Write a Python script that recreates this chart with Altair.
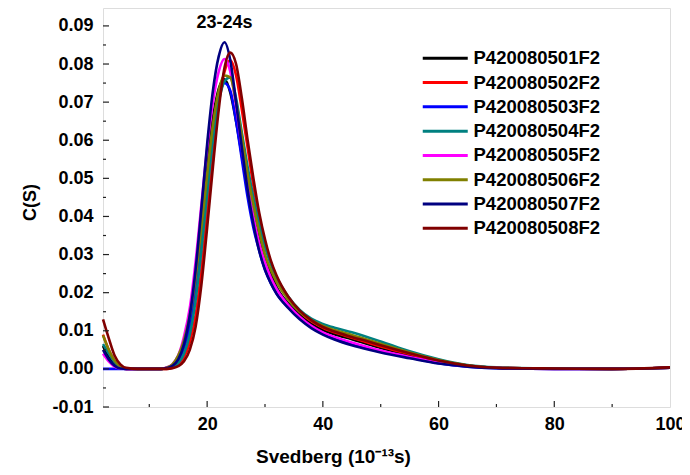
import altair as alt
import pandas as pd

svedberg = [2, 3, 4, 5, 6, 8, 10, 12, 13, 14, 15, 16, 17, 18, 19, 20, 21, 22, 23, 24, 25, 26, 27, 28, 29,
            30, 31, 32, 34, 36, 38, 40, 42, 45, 48, 50, 55, 60, 65, 70, 80, 90, 100]

s501 = [0.006, 0.003, 0.001, 0.0002, 0, 0, 0, 0, 0.0002, 0.0008, 0.0025, 0.0065, 0.013, 0.024, 0.039, 0.055,
        0.066, 0.0735, 0.076, 0.0725, 0.065, 0.056, 0.047, 0.040, 0.034, 0.029, 0.025, 0.0215, 0.0172, 0.0142,
        0.0118, 0.0102, 0.0091, 0.0078, 0.0064, 0.0055, 0.0036, 0.0019, 0.0008, 0.0003, 0.0001, 0, 0.0003]
s502 = [0.009, 0.005, 0.002, 0.0005, 0, 0, 0, 0, 0, 0.0003, 0.001, 0.003, 0.007, 0.014, 0.026, 0.041,
        0.057, 0.070, 0.078, 0.081, 0.077, 0.068, 0.058, 0.048, 0.040, 0.033, 0.028, 0.024, 0.0185, 0.015,
        0.0125, 0.0108, 0.0096, 0.0082, 0.0068, 0.0059, 0.0039, 0.0021, 0.0009, 0.0003, 0.0001, 0, 0.0003]
s503 = [0, 0, 0, 0, 0, 0, 0, 0, 0.0002, 0.0007, 0.002, 0.0055, 0.011, 0.021, 0.035, 0.050,
        0.063, 0.071, 0.075, 0.073, 0.065, 0.055, 0.045, 0.037, 0.031, 0.026, 0.0225, 0.0198, 0.0162, 0.0133,
        0.011, 0.0093, 0.0081, 0.0066, 0.0053, 0.0046, 0.003, 0.0015, 0.0006, 0.0002, 0, 0, 0.0003]
s504 = [0.0065, 0.004, 0.0018, 0.0006, 0.0001, 0, 0, 0, 0.0001, 0.0004, 0.0015, 0.004, 0.009, 0.018, 0.031, 0.046,
        0.060, 0.070, 0.0755, 0.0765, 0.071, 0.062, 0.053, 0.045, 0.038, 0.032, 0.0275, 0.024, 0.019, 0.0155,
        0.0132, 0.0118, 0.0108, 0.0096, 0.0082, 0.0072, 0.0046, 0.0025, 0.001, 0.0004, 0.0001, 0, 0.0003]
s505 = [0.004, 0.002, 0.0006, 0.0001, 0, 0, 0, 0, 0.0004, 0.0012, 0.0035, 0.0085, 0.016, 0.028, 0.043, 0.058,
        0.070, 0.078, 0.0813, 0.078, 0.069, 0.058, 0.048, 0.040, 0.033, 0.028, 0.024, 0.021, 0.0168, 0.0137,
        0.0113, 0.0096, 0.0084, 0.0069, 0.0056, 0.0048, 0.0031, 0.0016, 0.0007, 0.0003, 0, 0, 0.0003]
s506 = [0.0088, 0.005, 0.0022, 0.0007, 0.0001, 0, 0, 0, 0.0003, 0.0012, 0.0035, 0.0075, 0.014, 0.024, 0.037, 0.051,
        0.064, 0.073, 0.077, 0.0765, 0.070, 0.061, 0.051, 0.043, 0.036, 0.030, 0.026, 0.0228, 0.0182, 0.015,
        0.0128, 0.0113, 0.0102, 0.0089, 0.0075, 0.0066, 0.0043, 0.0023, 0.0009, 0.0003, 0.0001, 0, 0.0003]
s507 = [0.005, 0.0025, 0.0008, 0.0001, 0, 0, 0, 0, 0.0002, 0.0008, 0.0025, 0.0065, 0.014, 0.026, 0.042, 0.059,
        0.073, 0.082, 0.0857, 0.081, 0.070, 0.058, 0.047, 0.038, 0.031, 0.026, 0.0225, 0.0197, 0.016, 0.013,
        0.0107, 0.009, 0.0077, 0.0062, 0.005, 0.0043, 0.0028, 0.0014, 0.0006, 0.0002, 0, 0, 0.0003]
s508 = [0.013, 0.008, 0.0035, 0.0012, 0.0003, 0, 0, 0, 0, 0.0002, 0.0007, 0.002, 0.005, 0.011, 0.022, 0.037,
        0.053, 0.068, 0.079, 0.083, 0.080, 0.071, 0.060, 0.050, 0.041, 0.034, 0.0285, 0.0245, 0.019, 0.0153,
        0.0128, 0.011, 0.0098, 0.0084, 0.0071, 0.0062, 0.0041, 0.0022, 0.0009, 0.0003, 0.0001, 0, 0.0004]

series_names = ["P420080501F2", "P420080502F2", "P420080503F2", "P420080504F2",
                "P420080505F2", "P420080506F2", "P420080507F2", "P420080508F2"]
series_colors = ["#000000", "#FF0000", "#0000FF", "#008080",
                 "#FF00FF", "#808000", "#000080", "#800000"]
series_values = [s501, s502, s503, s504, s505, s506, s507, s508]

x_major = [20, 40, 60, 80]
x_minor = [10, 30, 50, 70, 90]
x_labels = [20, 40, 60, 80, 100]
y_major = [-0.01, 0.0, 0.01, 0.02, 0.03, 0.04, 0.05, 0.06, 0.07, 0.08, 0.09]
y_minor = [-0.005, 0.005, 0.015, 0.025, 0.035, 0.045, 0.055, 0.065, 0.075, 0.085]

peak_label = "23-24s"
peak_x = 23.0
peak_y = 0.0908

rows = []
for name, vals in zip(series_names, series_values):
    for s, c in zip(svedberg, vals):
        rows.append({"S": s, "C": c, "sample": name})
df = pd.DataFrame(rows)

W, H = 567, 399
FONT = "Liberation Sans"

xscale = alt.Scale(domain=[2, 100], nice=False, zero=False)
yscale = alt.Scale(domain=[-0.01, 0.0947], nice=False, zero=False)

xaxis = alt.Axis(values=x_labels, format="d", tickSize=0, domain=False, grid=False,
                 labelFont=FONT, labelFontSize=18, labelFontWeight="bold", labelColor="black",
                 labelPadding=8, labelFlush=False, labelOverlap=False,
                 title="Svedberg (10⁻¹³s)", titleFont=FONT, titleFontSize=19,
                 titleFontWeight="bold", titleColor="black",
                 titleX=230, titleY=49, titleAlign="center", titleBaseline="middle")
yaxis = alt.Axis(values=y_major, tickSize=0, domain=False, grid=False, labelOverlap=False,
                 labelExpr="replace(format(datum.value, '.2f'), '\u2212', '-')",
                 labelFont=FONT, labelFontSize=18, labelFontWeight="bold", labelColor="black",
                 labelPadding=10,
                 title="C(S)", titleFont=FONT, titleFontSize=18, titleFontWeight="bold",
                 titleColor="black", titleX=-73, titleY=194, titleAngle=270,
                 titleAlign="center", titleBaseline="middle")

X = lambda: alt.X("S:Q", scale=xscale, axis=xaxis)
Y = lambda: alt.Y("C:Q", scale=yscale, axis=yaxis)

lines = alt.Chart(df).mark_line(strokeWidth=2.6, interpolate="monotone").encode(
    x=X(), y=Y(),
    color=alt.Color("sample:N",
                    scale=alt.Scale(domain=series_names, range=series_colors),
                    legend=alt.Legend(orient="none", legendX=333, legendY=41, title=None,
                                      symbolType="M-3,0H3", symbolSize=225, symbolStrokeWidth=3,
                                      labelFont=FONT, labelFontSize=18.5, labelFontWeight="bold",
                                      labelColor="black", labelOffset=19, rowPadding=5.3, padding=0,
                                      symbolOffset=0)),
)

xmaj = alt.Chart(pd.DataFrame({"S": x_major})).mark_rule(color="#222", strokeWidth=1.2).encode(
    x=X(), y=alt.value(H), y2=alt.value(H - 6))
xmin = alt.Chart(pd.DataFrame({"S": x_minor})).mark_rule(color="#222", strokeWidth=1.2).encode(
    x=X(), y=alt.value(H), y2=alt.value(H - 3))
ymaj = alt.Chart(pd.DataFrame({"C": y_major})).mark_rule(color="#222", strokeWidth=1.2).encode(
    y=Y(), x=alt.value(0), x2=alt.value(6))
ymin = alt.Chart(pd.DataFrame({"C": y_minor})).mark_rule(color="#222", strokeWidth=1.2).encode(
    y=Y(), x=alt.value(0), x2=alt.value(3))

label = alt.Chart(pd.DataFrame({"S": [peak_x], "C": [peak_y], "t": [peak_label]})).mark_text(
    font=FONT, fontSize=18, fontWeight="bold", color="black", align="center", baseline="middle"
).encode(x=X(), y=Y(), text="t:N")

chart = alt.layer(lines, xmaj, xmin, ymaj, ymin, label).properties(
    width=W, height=H,
    autosize=alt.AutoSizeParams(type="none"),
    padding={"left": 95, "top": 0, "right": 12, "bottom": 60},
).configure_view(stroke="#111", strokeWidth=1.3).configure(background="white")

chart.save("out.html", embed_options={"renderer": "svg", "actions": False})
